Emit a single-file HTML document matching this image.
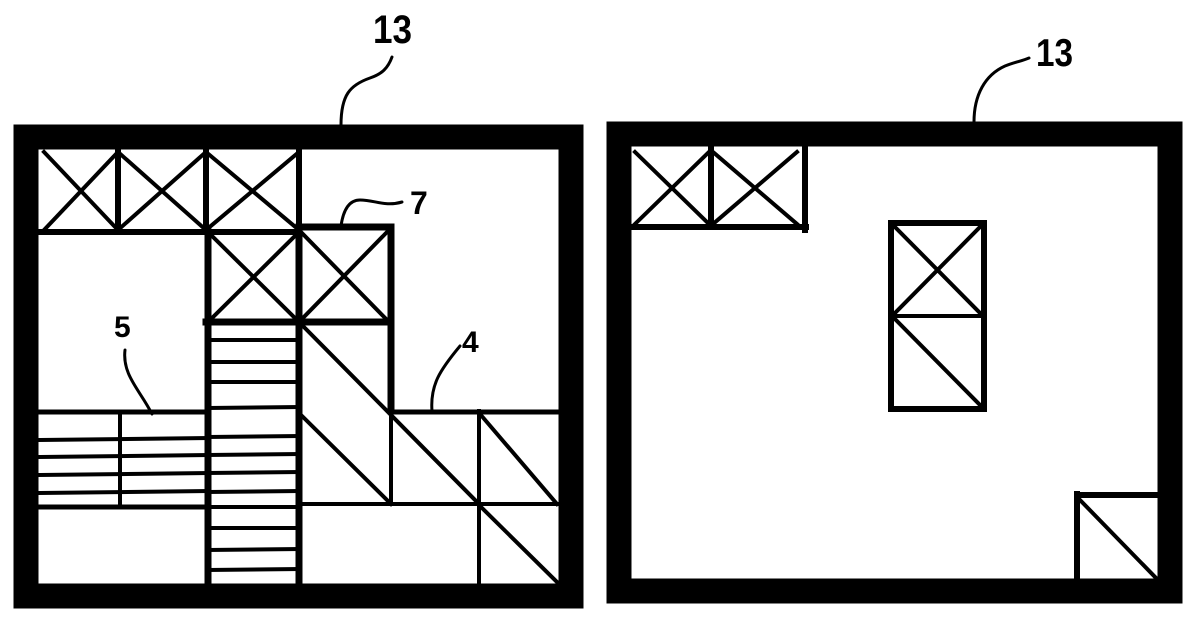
<!DOCTYPE html>
<html><head><style>html,body{margin:0;padding:0;background:#fff}svg{display:block}</style></head>
<body>
<svg width="1200" height="628" viewBox="0 0 1200 628" xmlns="http://www.w3.org/2000/svg">
<g fill="none" stroke="#000" stroke-linecap="square">
<!-- LEFT PANEL frame -->
<rect x="26" y="137" width="545" height="459" stroke-width="25"/>
<!-- top X row -->
<g stroke-width="6">
<line x1="40" y1="232" x2="299" y2="232"/>
<line x1="118" y1="148" x2="118" y2="232"/>
<line x1="206" y1="148" x2="206" y2="232"/>
<line x1="299" y1="148" x2="299" y2="232"/>
</g>
<g stroke-width="4">
<line x1="44" y1="152" x2="118" y2="230"/><line x1="118" y1="152" x2="44" y2="230"/>
<line x1="118" y1="152" x2="206" y2="230"/><line x1="206" y1="152" x2="118" y2="230"/>
<line x1="206" y1="152" x2="299" y2="230"/><line x1="299" y1="152" x2="206" y2="230"/>
</g>
<!-- second X row (7) -->
<g stroke-width="7">
<line x1="299" y1="227" x2="391" y2="227"/>
<line x1="391" y1="227" x2="391" y2="411"/>
<line x1="208" y1="232" x2="208" y2="585"/>
<line x1="299" y1="232" x2="299" y2="585"/>
<line x1="206" y1="322" x2="391" y2="322"/>
</g>
<g stroke-width="4">
<line x1="208" y1="232" x2="299" y2="322"/><line x1="299" y1="232" x2="208" y2="322"/>
<line x1="299" y1="230" x2="389" y2="322"/><line x1="389" y1="230" x2="299" y2="322"/>
</g>
<!-- horizontal divider at 411 -->
<line x1="40" y1="412" x2="208" y2="412" stroke-width="5"/>
<line x1="391" y1="412" x2="557" y2="412" stroke-width="5"/>
<!-- left stripe block -->
<g stroke-width="4">
<line x1="40" y1="440" x2="208" y2="438"/>
<line x1="40" y1="457" x2="208" y2="455"/>
<line x1="40" y1="475" x2="208" y2="473"/>
<line x1="40" y1="493" x2="208" y2="491"/>
<line x1="120" y1="412" x2="120" y2="507"/>
</g>
<line x1="40" y1="507" x2="208" y2="507" stroke-width="5"/>
<!-- stair column lines -->
<g stroke-width="4">
<line x1="208" y1="340" x2="299" y2="340"/>
<line x1="208" y1="362" x2="299" y2="362"/>
<line x1="208" y1="382" x2="299" y2="382"/>
<line x1="208" y1="408" x2="299" y2="407"/>
<line x1="208" y1="437" x2="299" y2="436"/>
<line x1="208" y1="455" x2="299" y2="454"/>
<line x1="208" y1="473" x2="299" y2="472"/>
<line x1="208" y1="492" x2="299" y2="491"/>
<line x1="208" y1="507" x2="299" y2="507"/>
<line x1="208" y1="528" x2="299" y2="528"/>
<line x1="208" y1="550" x2="299" y2="549"/>
<line x1="208" y1="570" x2="299" y2="569"/>
</g>
<!-- right cells -->
<g stroke-width="4">
<line x1="391" y1="411" x2="391" y2="503"/>
<line x1="299" y1="504" x2="557" y2="504"/>
<line x1="479" y1="411" x2="479" y2="585"/>
<line x1="300" y1="323" x2="479" y2="504"/>
<line x1="300" y1="414" x2="391" y2="504"/>
<line x1="480" y1="414" x2="557" y2="504"/>
<line x1="480" y1="506" x2="557" y2="582"/>
</g>
<!-- leaders left -->
<g stroke-width="3" stroke-linecap="round">
<path d="M341 125 C341 95 350 85 370 78 C382 74 388 68 392 57"/>
<path d="M341 226 C343 212 348 200 360 200 C375 200 385 207 402 202"/>
<path d="M125 350 C122 375 140 390 152 414"/>
<path d="M432 411 C430 385 440 370 460 346"/>
</g>
<!-- RIGHT PANEL frame -->
<rect x="619" y="134" width="551" height="457" stroke-width="25"/>
<g stroke-width="6">
<line x1="634" y1="227" x2="806" y2="227"/>
<line x1="805" y1="146" x2="805" y2="230"/>
<line x1="711" y1="148" x2="711" y2="227"/>
<rect x="891" y="223" width="93" height="186"/>
</g>
<g stroke-width="4">
<line x1="890" y1="316" x2="985" y2="316"/>
<line x1="635" y1="152" x2="709" y2="224"/><line x1="709" y1="152" x2="635" y2="224"/>
<line x1="713" y1="152" x2="797" y2="224"/><line x1="797" y1="152" x2="713" y2="224"/>
<line x1="894" y1="226" x2="981" y2="314"/><line x1="981" y1="226" x2="894" y2="314"/>
<line x1="894" y1="318" x2="981" y2="406"/>
</g>
<g stroke-width="6">
<line x1="1077" y1="494" x2="1077" y2="580"/>
<line x1="1077" y1="495" x2="1158" y2="495"/>
</g>
<line x1="1080" y1="500" x2="1156" y2="578" stroke-width="4"/>
<path d="M974 122 C974 95 985 75 1005 66 C1015 62 1022 61 1029 58" stroke-width="3" stroke-linecap="round"/>
</g>
<g font-family="Liberation Sans, Arial, sans-serif" font-weight="bold" fill="#000">
<text x="373" y="43" font-size="40" textLength="39" lengthAdjust="spacingAndGlyphs">13</text>
<text x="1036" y="66" font-size="39" textLength="37" lengthAdjust="spacingAndGlyphs">13</text>
<text x="410" y="214" font-size="32">7</text>
<text x="114" y="337" font-size="30">5</text>
<text x="462" y="352" font-size="30">4</text>
</g>
</svg>
</body></html>
